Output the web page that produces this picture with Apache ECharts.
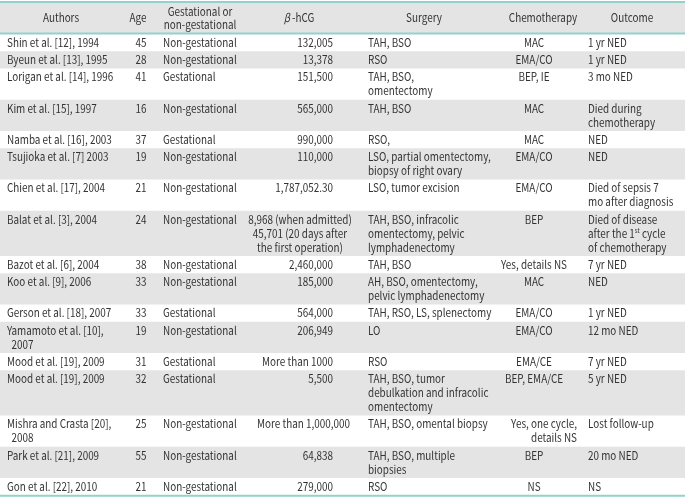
<!DOCTYPE html>
<html><head><meta charset="utf-8">
<script src="https://cdn.jsdelivr.net/npm/echarts@6/dist/echarts.min.js"></script>
<style>html,body{margin:0;padding:0;background:#fff}#c{width:685px;height:500px}</style>
</head><body><div id="c"></div>
<script>
// ---- data ----
const headers = ["Authors", "Age", "Gestational or\nnon-gestational", "{b|β} -hCG", "Surgery", "Chemotherapy", "Outcome"];
const authors = ["Shin et al. [12], 1994", "Byeun et al. [13], 1995", "Lorigan et al. [14], 1996", "Kim et al. [15], 1997",
  "Namba et al. [16], 2003", "Tsujioka et al. [7] 2003", "Chien et al. [17], 2004", "Balat et al. [3], 2004",
  "Bazot et al. [6], 2004", "Koo et al. [9], 2006", "Gerson et al. [18], 2007", "Yamamoto et al. [10],\n  2007",
  "Mood et al. [19], 2009", "Mood et al. [19], 2009", "Mishra and Crasta [20],\n  2008", "Park et al. [21], 2009",
  "Gon et al. [22], 2010"];
const ages = [45, 28, 41, 16, 37, 19, 21, 24, 38, 33, 33, 19, 31, 32, 25, 55, 21];
const types = ["Non-gestational", "Non-gestational", "Gestational", "Non-gestational", "Gestational", "Non-gestational",
  "Non-gestational", "Non-gestational", "Non-gestational", "Non-gestational", "Gestational", "Non-gestational",
  "Gestational", "Gestational", "Non-gestational", "Non-gestational", "Non-gestational"];
const hcg = ["132,005", "13,378", "151,500", "565,000", "990,000", "110,000", "1,787,052.30",
  "8,968 (when admitted)\n45,701 (20 days after\nthe first operation)", "2,460,000", "185,000", "564,000", "206,949",
  "More than 1000", "5,500", "More than 1,000,000", "64,838", "279,000"];
const surgery = ["TAH, BSO", "RSO", "TAH, BSO,\nomentectomy", "TAH, BSO", "RSO,", "LSO, partial omentectomy,\nbiopsy of right ovary",
  "LSO, tumor excision", "TAH, BSO, infracolic\nomentectomy, pelvic\nlymphadenectomy", "TAH, BSO",
  "AH, BSO, omentectomy,\npelvic lymphadenectomy", "TAH, RSO, LS, splenectomy", "LO", "RSO",
  "TAH, BSO, tumor\ndebulkation and infracolic\nomentectomy", "TAH, BSO, omental biopsy", "TAH, BSO, multiple\nbiopsies", "RSO"];
const chemo = ["MAC", "EMA/CO", "BEP, IE", "MAC", "MAC", "EMA/CO", "EMA/CO", "BEP", "Yes, details NS", "MAC", "EMA/CO",
  "EMA/CO", "EMA/CE", "BEP, EMA/CE", "Yes, one cycle,\ndetails NS", "BEP", "NS"];
const outcome = ["1 yr NED", "1 yr NED", "3 mo NED", "Died during\nchemotherapy", "NED", "NED", "Died of sepsis 7\nmo after diagnosis",
  "Died of disease\nafter the 1{sup|st} cycle\nof chemotherapy", "7 yr NED", "NED", "1 yr NED", "12 mo NED", "7 yr NED",
  "5 yr NED", "Lost follow-up", "20 mo NED", "NS"];

// ---- layout ----
const W = 685, H = 500;
const FONT = '"Noto Sans CJK SC", "Noto Sans", sans-serif';
const FS = 11.5, LH = 14, PAD = 3.25, SX = 0.86;
const TEXT = '#333333', BAND = '#e4e4e4', TEAL = '#92d1cc';
const cols = [
  {x: 7, align: 'left', hx: 61},
  {x: 141, align: 'center', hx: 138},
  {x: 163, align: 'left', hx: 200},
  {x: 333, align: 'right', hx: 299},
  {x: 368, align: 'left', hx: 424},
  {x: 534, align: 'center', hx: 543},
  {x: 588, align: 'left', hx: 632}
];
const overrides = {'7_3': {x: 300, align: 'center'}, '14_3': {x: 350, align: 'right'}, '14_5': {x: 577, align: 'right'}};
const HEAD_TOP = 2, HEAD_BOT = 34;

const rows = authors.map((a, i) => [a, String(ages[i]), types[i], hcg[i], surgery[i], chemo[i], outcome[i]]);
const nLines = s => s.split('\n').length;
const heights = rows.map(r => PAD + LH * Math.max(...r.map(nLines)));
const tops = [];
let yy = HEAD_BOT;
heights.forEach(h => { tops.push(yy); yy += h; });
const TABLE_BOT = yy;

const rich = {
  b: {fontFamily: FONT, fontSize: FS, fontStyle: 'italic', fill: TEXT, color: TEXT},
  sup: {fontFamily: FONT, fontSize: 7, fill: TEXT, color: TEXT, verticalAlign: 'top', lineHeight: LH}
};

function txt(api, s, x, y, align, va, lh) {
  const p = api.coord([x, y]);
  return {
    type: 'text',
    x: p[0], y: p[1], scaleX: SX,
    style: {text: s, x: 0, y: 0, align: align, verticalAlign: va, font: FS + 'px ' + FONT,
      fontFamily: FONT, fontSize: FS, lineHeight: lh, fill: TEXT, rich: rich}
  };
}
function rect(api, x, y, w, h, color) {
  const p = api.coord([x, y]);
  const s = api.size([w, h]);
  return {type: 'rect', shape: {x: p[0], y: p[1], width: s[0], height: s[1]}, style: {fill: color}};
}

function renderItem(params, api) {
  const idx = api.value(1);
  const children = [];
  if (idx === -1) {
    children.push(rect(api, 0, HEAD_TOP, W, HEAD_BOT - HEAD_TOP, BAND));
    children.push(rect(api, 0, HEAD_TOP - 1, W, 2, TEAL));
    children.push(rect(api, 0, HEAD_BOT - 1.5, W, 2, TEAL));
    headers.forEach((h, c) => {
      children.push(txt(api, h, cols[c].hx, (HEAD_TOP + HEAD_BOT) / 2, 'center', 'middle', 13));
    });
  } else if (idx === -2) {
    children.push(rect(api, 0, TABLE_BOT - 0.5, W, 2, TEAL));
  } else {
    const top = tops[idx];
    if (idx % 2 === 1) children.push(rect(api, 0, top, W, heights[idx], BAND));
    rows[idx].forEach((s, c) => {
      const o = overrides[idx + '_' + c] || cols[c];
      children.push(txt(api, s, o.x, top + 1.6, o.align, 'top', LH));
    });
  }
  return {type: 'group', children: children};
}

const seriesData = [[0, -1]].concat(rows.map((r, i) => [0, i])).concat([[0, -2]]);

const chart = echarts.init(document.getElementById('c'), null, {renderer: 'canvas'});
chart.setOption({
  animation: false,
  grid: {left: 0, right: 0, top: 0, bottom: 0},
  xAxis: {type: 'value', min: 0, max: W, show: false},
  yAxis: {type: 'value', min: 0, max: H, inverse: true, show: false},
  series: [{
    type: 'custom',
    clip: false,
    renderItem: renderItem,
    encode: {x: 0, y: 1},
    data: seriesData
  }]
});
</script>
</body></html>
